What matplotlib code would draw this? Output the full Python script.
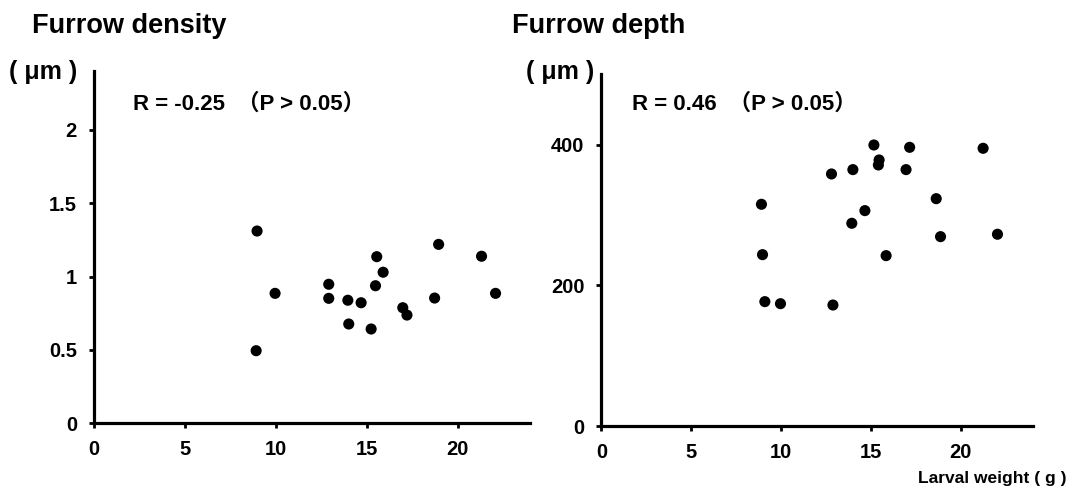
import matplotlib
matplotlib.use("Agg")
import matplotlib.pyplot as plt

# ---- data ----
density_weight = [8.98, 8.93, 9.97, 12.92, 12.92, 13.97, 14.02, 14.70, 15.25,
                  15.49, 15.56, 15.91, 16.99, 17.22, 18.74, 18.96, 21.32, 22.09]
density_value = [1.311, 0.495, 0.886, 0.948, 0.852, 0.839, 0.677, 0.822, 0.643,
                 0.938, 1.136, 1.030, 0.788, 0.738, 0.854, 1.220, 1.139, 0.886]

depth_weight = [15.17, 17.16, 21.25, 15.46, 15.42, 12.81, 14.00, 16.96, 8.91, 18.64,
                14.67, 13.94, 18.88, 22.05, 8.97, 15.85, 9.10, 9.97, 12.89]
depth_value = [399.5, 396.2, 394.8, 378.2, 371.1, 358.3, 364.5, 364.5, 315.2, 323.2,
               306.2, 288.2, 269.2, 272.6, 243.6, 242.2, 176.8, 173.9, 172.0]

x_ticks = [0, 5, 10, 15, 20]
x_tick_labels = ["0", "5", "10", "15", "20"]
density_ticks = [0, 0.5, 1, 1.5, 2]
density_tick_labels = ["0", "0.5", "1", "1.5", "2"]
depth_ticks = [0, 200, 400]
depth_tick_labels = ["0", "200", "400"]

titles = ["Furrow density", "Furrow depth"]
unit_label = "( μm )"
stat_texts = ["R = -0.25  （P > 0.05）", "R = 0.46  （P > 0.05）"]
x_label = "Larval weight ( g )"

# ---- figure ----
W, H = 1080, 490
fig = plt.figure(figsize=(W / 100, H / 100), dpi=100)
fam = ["Liberation Sans", "Noto Sans CJK JP", "DejaVu Sans"]
plt.rcParams["font.family"] = fam


def px_axes(x0, x1, ytop, ybot):
    return fig.add_axes([x0 / W, 1 - ybot / H, (x1 - x0) / W, (ybot - ytop) / H])


ax1 = px_axes(93.7, 530.3, 71.3, 423.3)
ax2 = px_axes(601.4, 1032.5, 74.3, 426.0)

panels = [
    (ax1, density_weight, density_value, (0, 2.4), density_ticks, density_tick_labels),
    (ax2, depth_weight, depth_value, (0, 500), depth_ticks, depth_tick_labels),
]

for ax, xs, ys, ylim, yt, ytl in panels:
    ax.scatter(xs, ys, s=64, color="black", edgecolors="none", zorder=3, clip_on=False)
    ax.set_xlim(0, 24)
    ax.set_ylim(*ylim)
    ax.set_xticks(x_ticks)
    ax.set_xticklabels(x_tick_labels)
    ax.set_yticks(yt)
    ax.set_yticklabels(ytl)
    for side in ("top", "right"):
        ax.spines[side].set_visible(False)
    for side in ("left", "bottom"):
        ax.spines[side].set_linewidth(2.3)
        ax.spines[side].set_color("black")
    ax.tick_params(direction="out", length=3.6, width=2, colors="black", pad=8.5,
                   labelsize=14.5)
    for lab in ax.get_xticklabels() + ax.get_yticklabels():
        lab.set_fontweight("bold")
    ax.set_facecolor("none")


def ftext(x, y, s, size, **kw):
    fig.text(x / W, 1 - y / H, s, fontsize=size, fontweight="bold", va="baseline",
             ha="left", family=fam, **kw)


ftext(32, 33.3, titles[0], 19.5)
ftext(512, 33.3, titles[1], 19.5)
ftext(9, 79, unit_label, 18)
ftext(526, 78.5, unit_label, 18)
ftext(132.6, 109.3, stat_texts[0], 16)
ftext(632.5, 109.3, stat_texts[1], 16)
ftext(918, 483.3, x_label, 12.5)

fig.savefig("out.png", dpi=100, facecolor="white")
